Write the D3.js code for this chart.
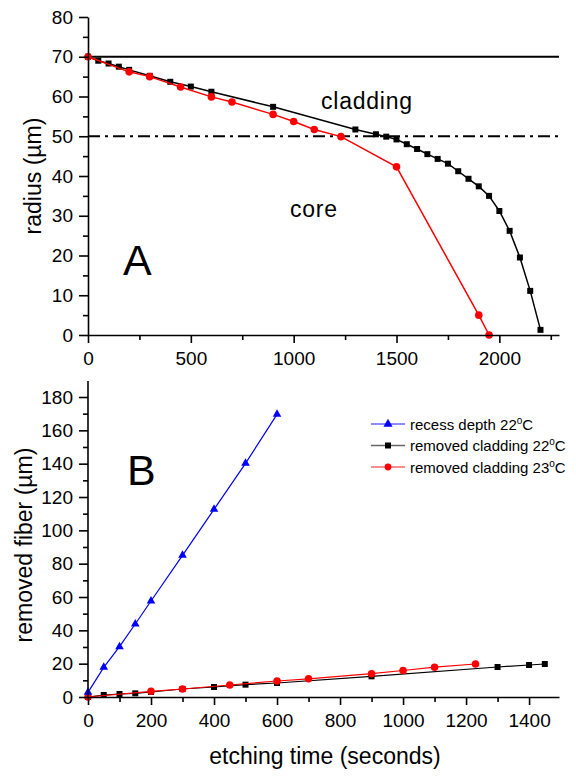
<!DOCTYPE html>
<html>
<head>
<meta charset="UTF-8">
<style>
  body { margin: 0; background: #fff; }
  svg text { font-family: "Liberation Sans", Arial, sans-serif; fill: #000; }
  .axis path, .axis line { stroke: #000; stroke-width: 1.6; }
  .axis text { font-size: 19px; font-family: "Liberation Sans", Arial, sans-serif; }
</style>
</head>
<body>
<script src="https://cdn.jsdelivr.net/npm/d3@7"></script>
<script>
// Panel A: radius vs etching time
var aBlackT = [0, 50, 100, 150, 200, 300, 400, 500, 600, 900, 1300, 1400, 1450, 1500, 1550, 1600, 1650, 1700, 1750, 1800, 1850, 1900, 1950, 2000, 2050, 2100, 2150, 2200];
var aBlackR = [70, 69.0, 68.3, 67.5, 66.7, 65.2, 63.7, 62.5, 61.2, 57.4, 51.7, 50.5, 49.9, 49.2, 48.0, 46.8, 45.5, 44.3, 43.1, 41.2, 39.3, 37.4, 35.0, 31.2, 26.2, 19.5, 11.1, 1.3];
var aRedT = [0, 200, 300, 450, 600, 700, 900, 1000, 1100, 1230, 1500, 1900, 1950];
var aRedR = [70, 66.2, 65.0, 62.4, 59.9, 58.6, 55.5, 53.7, 51.7, 49.9, 42.3, 5.0, 0];

// Panel B: removed fiber vs etching time
var bBlueT = [0, 50, 100, 150, 200, 300, 400, 500, 600];
var bBlueV = [2.8, 17.8, 30.2, 43.8, 57.6, 85.0, 112.6, 140.2, 169.6];
var bBlackT = [0, 50, 100, 150, 200, 300, 400, 500, 600, 900, 1300, 1400, 1450];
var bBlackV = [0, 1.2, 1.8, 2.2, 3.0, 4.8, 6.0, 7.4, 8.4, 12.4, 18.0, 19.2, 19.8];
var bRedT = [0, 200, 300, 450, 600, 700, 900, 1000, 1100, 1230];
var bRedV = [0, 3.4, 4.8, 7.2, 9.6, 10.9, 14.0, 15.9, 17.9, 19.8];

var legendLabels = ["recess depth 22", "removed cladding 22", "removed cladding 23"];
var legendColors = ["#0000ff", "#000000", "#ff0000"];
var legendSymbols = [d3.symbolTriangle, d3.symbolSquare, d3.symbolCircle];

var W = 576, H = 778;
var svg = d3.select("body").append("svg").attr("width", W).attr("height", H);

function zip(t, v) { return t.map(function (d, i) { return [d, v[i]]; }); }

function series(g, x, y, data, color, symbol, size, lw) {
  g.append("path")
    .datum(data)
    .attr("fill", "none")
    .attr("stroke", color)
    .attr("stroke-width", lw)
    .attr("d", d3.line().x(d => x(d[0])).y(d => y(d[1])));
  g.selectAll(null)
    .data(data)
    .enter()
    .append("path")
    .attr("transform", d => `translate(${x(d[0])},${y(d[1])})`)
    .attr("d", d3.symbol().type(symbol).size(size))
    .attr("fill", color);
}

// ---------- Panel A ----------
var xA = d3.scaleLinear().domain([0, 2290]).range([88, 559]);
var yA = d3.scaleLinear().domain([0, 80]).range([335, 17]);

var gA = svg.append("g");

// reference lines
gA.append("line")
  .attr("x1", xA(0)).attr("x2", xA(2290))
  .attr("y1", yA(70)).attr("y2", yA(70))
  .attr("stroke", "#000").attr("stroke-width", 2);
gA.append("line")
  .attr("x1", xA(0)).attr("x2", xA(2290))
  .attr("y1", yA(50)).attr("y2", yA(50))
  .attr("stroke", "#000").attr("stroke-width", 2)
  .attr("stroke-dasharray", "12,5,3,5");

series(gA, xA, yA, zip(aBlackT, aBlackR), "#000", d3.symbolSquare, 36, 1.5);
series(gA, xA, yA, zip(aRedT, aRedR), "#ff0000", d3.symbolCircle, 45, 1.5);

// minor ticks
gA.append("g").attr("class", "axis")
  .attr("transform", `translate(88,0)`)
  .call(d3.axisLeft(yA).tickValues(d3.range(5, 80, 10)).tickSize(5).tickFormat(""))
  .call(g => g.select(".domain").remove());
gA.append("g").attr("class", "axis")
  .attr("transform", `translate(88,0)`)
  .call(d3.axisLeft(yA).tickValues(d3.range(0, 81, 10)).tickSize(9).tickSizeOuter(0).tickPadding(6));
gA.append("g").attr("class", "axis")
  .attr("transform", `translate(0,335)`)
  .call(d3.axisBottom(xA).tickValues([250, 750, 1250, 1750, 2250]).tickSize(5).tickFormat(""))
  .call(g => g.select(".domain").remove());
gA.append("g").attr("class", "axis")
  .attr("transform", `translate(0,335)`)
  .call(d3.axisBottom(xA).tickValues([0, 500, 1000, 1500, 2000]).tickSize(8).tickSizeOuter(0).tickPadding(9).tickFormat(d3.format("d")));

gA.append("text").attr("transform", "translate(41,176) rotate(-90)")
  .attr("text-anchor", "middle").attr("font-size", 23).text("radius (µm)");
gA.append("text").attr("x", 321).attr("y", 109).attr("font-size", 23).attr("textLength", 91).text("cladding");
gA.append("text").attr("x", 290).attr("y", 217).attr("font-size", 23).attr("textLength", 47).text("core");
gA.append("text").attr("x", 123).attr("y", 275).attr("font-size", 43).text("A");

// ---------- Panel B ----------
var xB = d3.scaleLinear().domain([0, 1495]).range([88, 559]);
var yB = d3.scaleLinear().domain([0, 180]).range([697, 397]);

var gB = svg.append("g");

series(gB, xB, yB, zip(bBlackT, bBlackV), "#000", d3.symbolSquare, 36, 1.2);
series(gB, xB, yB, zip(bRedT, bRedV), "#ff0000", d3.symbolCircle, 45, 1.2);
series(gB, xB, yB, zip(bBlueT, bBlueV), "#0000ff", d3.symbolTriangle, 32, 1.2);

gB.append("g").attr("class", "axis")
  .attr("transform", `translate(88,0)`)
  .call(d3.axisLeft(yB).tickValues(d3.range(10, 190, 20)).tickSize(5).tickFormat(""))
  .call(g => g.select(".domain").remove());
gB.append("g").attr("class", "axis")
  .attr("transform", `translate(88,0)`)
  .call(d3.axisLeft(yB).tickValues(d3.range(0, 181, 20)).tickSize(9).tickSizeOuter(0).tickPadding(6));
gB.select(".axis .domain").attr("d", `M0,${yB(0)}V381`);
gB.append("g").attr("class", "axis")
  .attr("transform", `translate(0,697)`)
  .call(d3.axisBottom(xB).tickValues(d3.range(100, 1500, 200)).tickSize(5).tickFormat(""))
  .call(g => g.select(".domain").remove());
gB.append("g").attr("class", "axis")
  .attr("transform", `translate(0,697)`)
  .call(d3.axisBottom(xB).tickValues(d3.range(0, 1401, 200)).tickSize(8).tickSizeOuter(0).tickPadding(9).tickFormat(d3.format("d")));

gB.append("text").attr("transform", "translate(32,545) rotate(-90)")
  .attr("text-anchor", "middle").attr("font-size", 23).text("removed fiber (µm)");
gB.append("text").attr("x", 325).attr("y", 764).attr("text-anchor", "middle")
  .attr("font-size", 23).text("etching time (seconds)");
gB.append("text").attr("x", 127).attr("y", 485).attr("font-size", 43).text("B");

// legend
var leg = gB.append("g").attr("transform", "translate(371,424)");
legendLabels.forEach(function (lab, i) {
  var row = leg.append("g").attr("transform", `translate(0,${i * 21.5})`);
  row.append("line").attr("x1", 0).attr("x2", 34).attr("stroke", legendColors[i])
    .attr("stroke-opacity", 0.6).attr("stroke-width", 1.5);
  row.append("path").attr("transform", "translate(17,0)")
    .attr("d", d3.symbol().type(legendSymbols[i]).size(36)).attr("fill", legendColors[i]);
  var t = row.append("text").attr("x", 39).attr("y", 5.5).attr("font-size", 15).text(lab);
  t.append("tspan").attr("font-size", 10).attr("dy", -6).text("o");
  t.append("tspan").attr("dy", 6).text("C");
});
</script>
</body>
</html>
